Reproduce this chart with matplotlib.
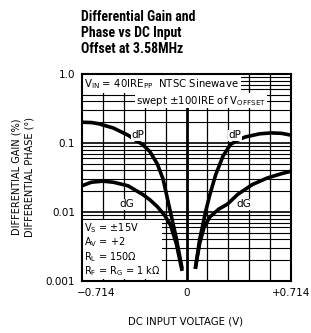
import matplotlib
matplotlib.use("Agg")
import matplotlib.pyplot as plt
from matplotlib import font_manager
import matplotlib.transforms as mtransforms
import numpy as np

# ---- data ----
x_left = [-0.714, -0.65, -0.6, -0.5, -0.4, -0.3, -0.25, -0.2, -0.16, -0.11, -0.07, -0.03]
dP_left = [0.20, 0.198, 0.19, 0.165, 0.13, 0.095, 0.075, 0.05, 0.03, 0.01, 0.0042, 0.0015]
xg_left = [-0.714, -0.65, -0.57, -0.5, -0.4, -0.3, -0.25, -0.2, -0.15, -0.11, -0.07, -0.03]
dG_left = [0.024, 0.027, 0.028, 0.027, 0.024, 0.018, 0.015, 0.012, 0.009, 0.0065, 0.0035, 0.0014]
x_right = [0.06, 0.09, 0.13, 0.16, 0.2, 0.25, 0.3, 0.35, 0.4, 0.5, 0.58, 0.65, 0.714]
dP_right = [0.0015, 0.004, 0.01, 0.018, 0.035, 0.065, 0.095, 0.11, 0.122, 0.136, 0.14, 0.138, 0.13]
xg_right = [0.06, 0.09, 0.12, 0.16, 0.22, 0.28, 0.35, 0.45, 0.55, 0.65, 0.714]
dG_right = [0.0015, 0.0035, 0.006, 0.0085, 0.011, 0.013, 0.018, 0.025, 0.031, 0.036, 0.039]

x_ticks = [-0.714, 0, 0.714]
x_ticklabels = ["\u22120.714", "0", "+0.714"]
y_ticks = [0.001, 0.01, 0.1, 1.0]
y_ticklabels = ["0.001", "0.01", "0.1", "1.0"]


def pick(fams):
    for f in fams:
        try:
            font_manager.findfont(font_manager.FontProperties(family=f), fallback_to_default=False)
            return f
        except Exception:
            pass
    return "DejaVu Sans"


title_font = pick(["Liberation Sans Narrow", "Roboto Condensed", "Liberation Sans"])
txt_font = "DejaVu Sans"

fig = plt.figure(figsize=(3.11, 3.33), dpi=100)
ax = fig.add_axes([82 / 311, 52 / 333, 209 / 311, 207 / 333])
ax.set_yscale("log")
ax.set_xlim(-0.714, 0.714)
ax.set_ylim(0.001, 1.0)

# grid
for i in range(1, 10):
    xv = -0.714 + i * 1.428 / 10
    ax.axvline(xv, color="black", lw=2.0 if i == 5 else 0.9, zorder=1)
for dec in [0.001, 0.01, 0.1]:
    for m in range(1, 10):
        yv = dec * m
        if yv <= 0.001 or yv >= 1.0:
            continue
        ax.axhline(yv, color="black", lw=1.2 if m == 1 else 0.8, zorder=1)

# curves
kw = dict(color="black", lw=2.6, solid_capstyle="butt", zorder=3)
ax.plot(x_left, dP_left, **kw)
ax.plot(xg_left, dG_left, **kw)
ax.plot(x_right, dP_right, **kw)
ax.plot(xg_right, dG_right, **kw)

ax.set_xticks(x_ticks)
ax.set_xticklabels(x_ticklabels, fontsize=7.5, family=txt_font)
ax.set_yticks(y_ticks)
ax.set_yticklabels(y_ticklabels, fontsize=7.5, family=txt_font)
ax.yaxis.set_minor_locator(matplotlib.ticker.NullLocator())
ax.tick_params(length=0, pad=5)
lbls = ax.get_xticklabels()
lbls[0].set_horizontalalignment("left")
lbls[0].set_transform(lbls[0].get_transform() + mtransforms.ScaledTranslation(-5 / 100, 0, fig.dpi_scale_trans))
for s in ax.spines.values():
    s.set_linewidth(1.5)
    s.set_zorder(5)

bb = dict(facecolor="white", edgecolor="none", pad=0.6)
ax.text(0.01, 0.985, r"$\mathregular{V_{IN}}$ = 40IRE$\mathregular{_{PP}}$  NTSC Sinewave",
        transform=ax.transAxes, ha="left", va="top", fontsize=7.3, family=txt_font,
        bbox=dict(facecolor="white", edgecolor="none", pad=1.2), zorder=4)
ax.text(0.57, 0.905, r"swept $\pm$100IRE of $\mathregular{V_{OFFSET}}$",
        transform=ax.transAxes, ha="center", va="top", fontsize=7.3, family=txt_font,
        bbox=bb, zorder=4)
ax.text(0.01, 0.015,
        "$\\mathregular{V_S}$ = $\\pm$15V\n$\\mathregular{A_V}$ = +2\n$\\mathregular{R_L}$ = 150$\\Omega$\n$\\mathregular{R_F}$ = $\\mathregular{R_G}$ = 1 k$\\Omega$",
        transform=ax.transAxes, ha="left", va="bottom", fontsize=7.0, family=txt_font,
        linespacing=1.05, bbox=dict(facecolor="white", edgecolor="none", pad=1.0), zorder=4)

for xv, yv, t in [(-0.33, 0.13, "dP"), (0.33, 0.13, "dP"), (-0.41, 0.013, "dG"), (0.39, 0.013, "dG")]:
    ax.text(xv, yv, t, ha="center", va="center", fontsize=7.5, family=txt_font,
            bbox=dict(facecolor="white", edgecolor="none", pad=0.3), zorder=4)

fig.text(81 / 311, 1 - 17 / 333, "Differential Gain and\nPhase vs DC Input\nOffset at 3.58MHz",
         ha="left", va="center", fontsize=10, fontweight="bold", family=title_font, linespacing=1.15)
fig.text(186 / 311, 1 - 16 / 333, "", fontsize=1)
# shift title vertical center to middle line
for t in fig.texts[:1]:
    t.set_y(1 - 33 / 333)

fig.text(186 / 311, 1 - 322 / 333, "DC INPUT VOLTAGE (V)", ha="center", va="center",
         fontsize=7.3, family=txt_font)
fig.text(17 / 311, 1 - 177 / 333, "DIFFERENTIAL GAIN (%)", ha="center", va="center",
         rotation=90, fontsize=7.0, family=txt_font)
fig.text(30 / 311, 1 - 177 / 333, "DIFFERENTIAL PHASE (\u00b0)", ha="center", va="center",
         rotation=90, fontsize=7.0, family=txt_font)

fig.savefig("out.png", dpi=100)
